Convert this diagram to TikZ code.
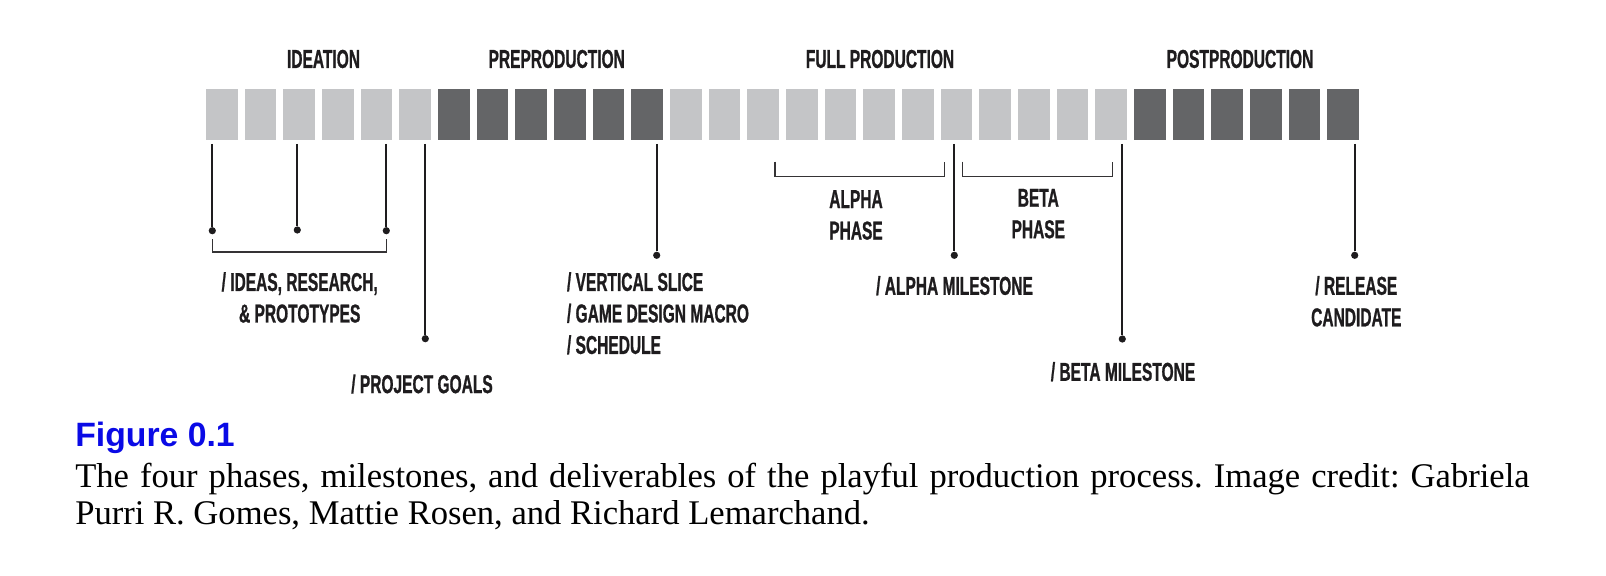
\documentclass[tikz,border=0pt]{standalone}
\usepackage{fontspec}
\setmainfont{Liberation Serif}
\newfontfamily\lblfont{Liberation Sans}[FakeStretch=0.6, FakeBold=0.8]
\newfontfamily\figfont{Liberation Sans}
\usepackage{tikz}
\definecolor{sqlight}{RGB}{196,197,199}
\definecolor{sqdark}{RGB}{100,101,103}
\definecolor{inkgray}{RGB}{30,28,30}
\definecolor{figblue}{RGB}{10,10,230}
\frenchspacing

\begin{document}
\begin{tikzpicture}[x=0.025cm, y=-0.025cm,
  lightbox/.style={fill=sqlight, minimum width=0.7875cm, minimum height=1.275cm, inner sep=0pt},
  darkbox/.style={lightbox, fill=sqdark},
  phase/.style={font=\lblfont\bfseries\fontsize{18.4}{22.4}\selectfont, text=inkgray,
                inner sep=0pt, align=center},
  dot/.style={circle, fill=inkgray, inner sep=0pt, minimum size=0.18cm},
  leader/.style={draw=inkgray, line width=1.3pt},
  bracket/.style={draw=inkgray!90, line width=1pt}
]
  \fill[white] (0,0) rectangle (1606,576);
  \useasboundingbox (0,0) rectangle (1606,576);

  %% Timeline blocks
  \foreach \i in {0,...,5}   \node[lightbox] (s\i) at ({221.75+38.67*\i},114.5) {};
  \foreach \i in {6,...,11}  \node[darkbox]  (s\i) at ({221.75+38.67*\i},114.5) {};
  \foreach \i in {12,...,23} \node[lightbox] (s\i) at ({221.75+38.67*\i},114.5) {};
  \foreach \i in {24,...,29} \node[darkbox]  (s\i) at ({221.75+38.67*\i},114.5) {};

  %% Phase titles
  \node[phase] (ideation) at (323.5,59)  {IDEATION};
  \node[phase] (preprod)  at (556.7,59)  {PREPRODUCTION};
  \node[phase] (fullprod) at (880,59)    {FULL PRODUCTION};
  \node[phase] (postprod) at (1240,59)   {POSTPRODUCTION};

  %% Milestone dots
  \coordinate (ltop) at (0,144);
  \node[dot] (d1) at (212.3,230.7)  {};
  \node[dot] (d2) at (297.3,230)    {};
  \node[dot] (d3) at (386.3,230.7)  {};
  \node[dot] (d4) at (425.3,338.7)  {};
  \node[dot] (d5) at (656.7,255.3)  {};
  \node[dot] (d6) at (954.3,255.3)  {};
  \node[dot] (d7) at (1122.3,339)   {};
  \node[dot] (d8) at (1354.7,255.3) {};

  %% Leaders from the blocks down to the dots
  \draw[leader] (d1 |- ltop) -- (d1);
  \draw[leader] (d2 |- ltop) -- (d2);
  \draw[leader] (d3 |- ltop) -- (d3);
  \draw[leader] (d4 |- ltop) -- (d4);
  \draw[leader] (d5 |- ltop) -- (d5);
  \draw[leader] (d6 |- ltop) -- (d6);
  \draw[leader] (d7 |- ltop) -- (d7);
  \draw[leader] (d8 |- ltop) -- (d8);

  %% Brackets
  \draw[bracket] ([yshift=-0.215cm]d1.center) -- ++(0,12.7) -| ([yshift=-0.215cm]d3.center);
  \coordinate (alphaL) at (775,161.7);
  \coordinate (alphaR) at (944.7,161.7);
  \coordinate (betaL)  at (962.7,161.7);
  \coordinate (betaR)  at (1112.7,161.7);
  \draw[bracket] (alphaL) -- ++(0,15) -| (alphaR);
  \draw[bracket] (betaL)  -- ++(0,15) -| (betaR);

  %% Deliverables
  \node[phase] (ideas)    at (299.7,297.5)  {/ IDEAS, RESEARCH,\\\& PROTOTYPES};
  \node[phase] (goals)    at (422,384)      {/ PROJECT GOALS};
  \node[phase, align=left, anchor=west] (vslice) at (566.7,313.3)
       {/ VERTICAL SLICE\\/ GAME DESIGN MACRO\\/ SCHEDULE};
  \node[phase] (alphaph)  at (856,215)      {ALPHA\\PHASE};
  \node[phase] (betaph)   at (1038.3,213.7) {BETA\\PHASE};
  \node[phase] (alphams)  at (954.5,285.7)  {/ ALPHA MILESTONE};
  \node[phase] (betams)   at (1123,371.7)   {/ BETA MILESTONE};
  \node[phase] (release)  at (1356.3,301.3) {/ RELEASE\\CANDIDATE};

  %% Caption
  \node[font=\figfont\bfseries\fontsize{24}{28}\selectfont, text=figblue,
        anchor=base west, inner sep=0pt] (figno) at (75,447) {Figure 0.1};
  \node[font=\fontsize{24.6}{26.3}\selectfont, text width=36.35cm, align=justify,
        anchor=north west, inner sep=0pt] (caption) at (75,463.3)
       {The four phases, milestones, and deliverables of the playful production process. Image credit: Gabriela\linebreak Purri R. Gomes, Mattie Rosen, and Richard Lemarchand.};
\end{tikzpicture}
\end{document}
